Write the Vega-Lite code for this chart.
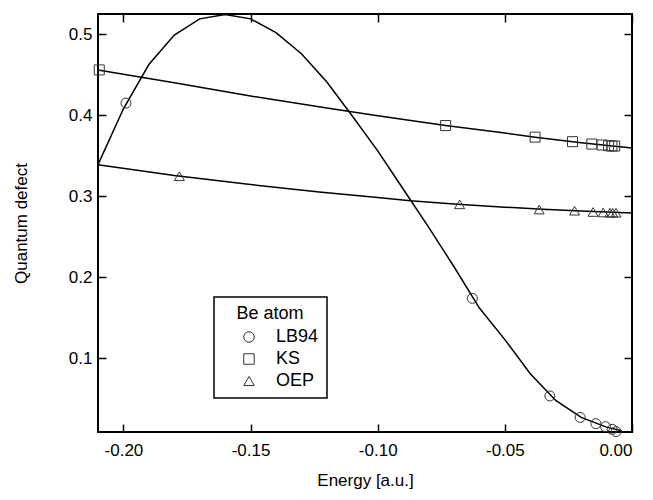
{
  "$schema": "https://vega.github.io/schema/vega-lite/v6.json",
  "width": 534,
  "height": 418,
  "autosize": {"type": "none"},
  "padding": {"left": 98, "top": 14, "right": 21, "bottom": 68},
  "background": "white",
  "datasets": {
    "fits": [
      {"series": "LB94", "energy": -0.21, "qd": 0.339},
      {"series": "LB94", "energy": -0.20, "qd": 0.408},
      {"series": "LB94", "energy": -0.19, "qd": 0.4626},
      {"series": "LB94", "energy": -0.18, "qd": 0.499},
      {"series": "LB94", "energy": -0.17, "qd": 0.519},
      {"series": "LB94", "energy": -0.16, "qd": 0.5245},
      {"series": "LB94", "energy": -0.15, "qd": 0.519},
      {"series": "LB94", "energy": -0.14, "qd": 0.502},
      {"series": "LB94", "energy": -0.13, "qd": 0.476},
      {"series": "LB94", "energy": -0.12, "qd": 0.441},
      {"series": "LB94", "energy": -0.11, "qd": 0.399},
      {"series": "LB94", "energy": -0.10, "qd": 0.356},
      {"series": "LB94", "energy": -0.09, "qd": 0.309},
      {"series": "LB94", "energy": -0.08, "qd": 0.262},
      {"series": "LB94", "energy": -0.07, "qd": 0.213},
      {"series": "LB94", "energy": -0.06, "qd": 0.162},
      {"series": "LB94", "energy": -0.05, "qd": 0.123},
      {"series": "LB94", "energy": -0.04, "qd": 0.081},
      {"series": "LB94", "energy": -0.03, "qd": 0.048},
      {"series": "LB94", "energy": -0.02, "qd": 0.027},
      {"series": "LB94", "energy": -0.01, "qd": 0.015},
      {"series": "LB94", "energy": -0.004, "qd": 0.0105},
      {"series": "KS", "energy": -0.21, "qd": 0.456},
      {"series": "KS", "energy": -0.18, "qd": 0.440},
      {"series": "KS", "energy": -0.15, "qd": 0.4237},
      {"series": "KS", "energy": -0.12, "qd": 0.409},
      {"series": "KS", "energy": -0.10, "qd": 0.3995},
      {"series": "KS", "energy": -0.0733, "qd": 0.3873},
      {"series": "KS", "energy": -0.05, "qd": 0.378},
      {"series": "KS", "energy": -0.0381, "qd": 0.373},
      {"series": "KS", "energy": -0.02, "qd": 0.366},
      {"series": "KS", "energy": 0.0, "qd": 0.3595},
      {"series": "OEP", "energy": -0.21, "qd": 0.339},
      {"series": "OEP", "energy": -0.18, "qd": 0.3255},
      {"series": "OEP", "energy": -0.15, "qd": 0.3145},
      {"series": "OEP", "energy": -0.123, "qd": 0.3053},
      {"series": "OEP", "energy": -0.10, "qd": 0.2985},
      {"series": "OEP", "energy": -0.0872, "qd": 0.2945},
      {"series": "OEP", "energy": -0.07, "qd": 0.2905},
      {"series": "OEP", "energy": -0.05, "qd": 0.2865},
      {"series": "OEP", "energy": -0.035, "qd": 0.284},
      {"series": "OEP", "energy": -0.02, "qd": 0.2818},
      {"series": "OEP", "energy": 0.0, "qd": 0.2794}
    ],
    "points": [
      {"series": "LB94", "energy": -0.199, "qd": 0.415},
      {"series": "LB94", "energy": -0.0628, "qd": 0.174},
      {"series": "LB94", "energy": -0.0323, "qd": 0.0535},
      {"series": "LB94", "energy": -0.0204, "qd": 0.027},
      {"series": "LB94", "energy": -0.0142, "qd": 0.0193},
      {"series": "LB94", "energy": -0.0104, "qd": 0.0156},
      {"series": "LB94", "energy": -0.0078, "qd": 0.0123},
      {"series": "LB94", "energy": -0.0063, "qd": 0.0095},
      {"series": "KS", "energy": -0.2095, "qd": 0.456},
      {"series": "KS", "energy": -0.0733, "qd": 0.3873},
      {"series": "KS", "energy": -0.0381, "qd": 0.373},
      {"series": "KS", "energy": -0.0234, "qd": 0.3674},
      {"series": "KS", "energy": -0.0158, "qd": 0.3645},
      {"series": "KS", "energy": -0.0118, "qd": 0.3633},
      {"series": "KS", "energy": -0.0092, "qd": 0.3624},
      {"series": "KS", "energy": -0.0079, "qd": 0.362},
      {"series": "KS", "energy": -0.0068, "qd": 0.362},
      {"series": "OEP", "energy": -0.178, "qd": 0.3247},
      {"series": "OEP", "energy": -0.0678, "qd": 0.290},
      {"series": "OEP", "energy": -0.0365, "qd": 0.2836},
      {"series": "OEP", "energy": -0.0226, "qd": 0.2822},
      {"series": "OEP", "energy": -0.0153, "qd": 0.2806},
      {"series": "OEP", "energy": -0.0113, "qd": 0.280},
      {"series": "OEP", "energy": -0.0087, "qd": 0.2797},
      {"series": "OEP", "energy": -0.0076, "qd": 0.2797},
      {"series": "OEP", "energy": -0.0063, "qd": 0.2797}
    ]
  },
  "resolve": {"axis": {"x": "independent", "y": "independent"}},
  "layer": [
    {
      "data": {"name": "fits"},
      "mark": {"type": "line", "color": "black", "strokeWidth": 1.5, "interpolate": "linear"},
      "encoding": {
        "x": {"field": "energy", "type": "quantitative",
              "scale": {"domain": [-0.21, 0], "nice": false, "zero": false},
              "axis": {"orient": "top", "labels": false, "title": null, "values": [-0.2, -0.15, -0.1, -0.05, 0], "tickSize": -8}},
        "y": {"field": "qd", "type": "quantitative",
              "scale": {"domain": [0.009, 0.525], "nice": false, "zero": false},
              "axis": {"orient": "right", "labels": false, "title": null, "values": [0.1, 0.2, 0.3, 0.4, 0.5], "tickSize": -8}},
        "detail": {"field": "series", "type": "nominal"}
      }
    },
    {
      "data": {"name": "points"},
      "mark": {"type": "point", "filled": false, "stroke": "#333333", "strokeWidth": 1, "size": 100, "opacity": 1},
      "encoding": {
        "x": {"field": "energy", "type": "quantitative",
              "scale": {"domain": [-0.21, 0], "nice": false, "zero": false},
              "axis": {"orient": "bottom", "title": "Energy [a.u.]", "values": [-0.2, -0.15, -0.1, -0.05, 0],
                       "labelExpr": "replace(format(datum.value, '.2f'), '\u2212', '-')",
                       "tickSize": -8, "labelPadding": 18, "titlePadding": 14}},
        "y": {"field": "qd", "type": "quantitative",
              "scale": {"domain": [0.009, 0.525], "nice": false, "zero": false},
              "axis": {"orient": "left", "title": "Quantum defect", "values": [0.1, 0.2, 0.3, 0.4, 0.5],
                       "format": ".1f", "tickSize": -8, "labelPadding": 14, "titlePadding": 38}},
        "shape": {"field": "series", "type": "nominal",
                  "scale": {"domain": ["LB94", "KS", "OEP"], "range": ["circle", "square", "triangle-up"]},
                  "legend": {"title": "Be atom", "orient": "none", "legendX": 116, "legendY": 283,
                             "strokeColor": "black", "fillColor": "white", "padding": 8,
                             "titleAnchor": "middle", "symbolOffset": 18, "labelOffset": 18, "rowPadding": 4,
                             "symbolSize": 110, "symbolStrokeColor": "#333333", "symbolFillColor": "transparent",
                             "symbolStrokeWidth": 1}}
      }
    }
  ],
  "config": {
    "view": {"stroke": "black", "strokeWidth": 2},
    "font": "Liberation Sans",
    "axis": {"domain": false, "grid": false, "tickColor": "black", "tickWidth": 1.5,
             "labelColor": "black", "labelFontSize": 17, "labelFont": "Liberation Sans",
             "titleColor": "black", "titleFontSize": 17, "titleFontWeight": "normal", "titleFont": "Liberation Sans"},
    "legend": {"labelFontSize": 18, "titleFontSize": 18, "titleFontWeight": "normal", "labelColor": "black", "titleColor": "black",
               "labelFont": "Liberation Sans", "titleFont": "Liberation Sans", "strokeWidth": 1.5}
  }
}
